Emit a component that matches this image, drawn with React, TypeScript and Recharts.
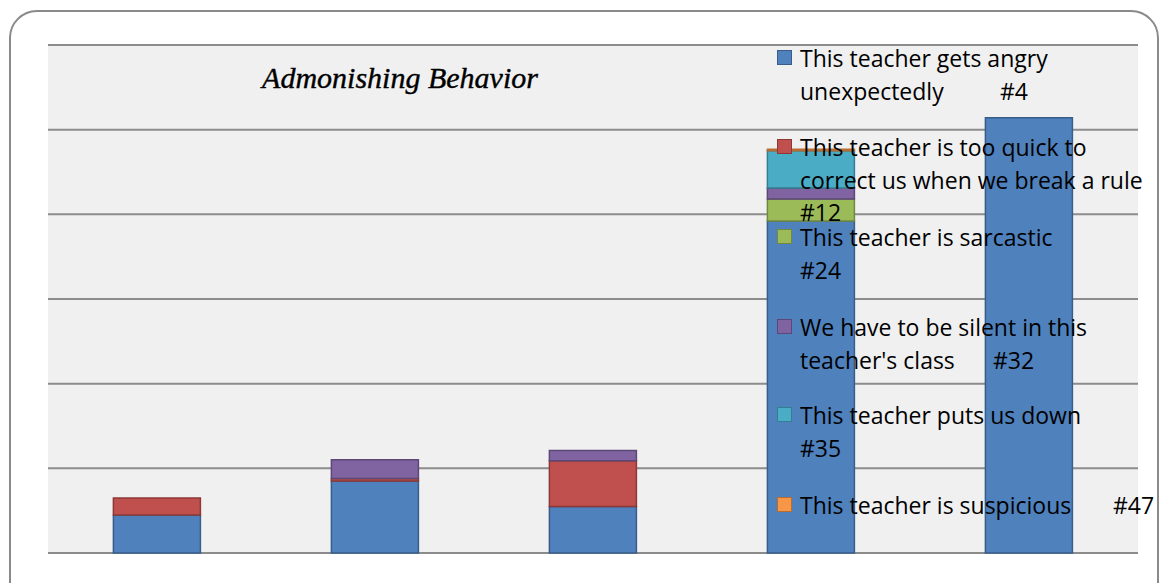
import React from "react";
import { BarChart, Bar, XAxis, YAxis, CartesianGrid, Legend } from "recharts";

const categories = ["Group 1", "Group 2", "Group 3", "Group 4", "Group 5"];
const angry = [0.45, 0.85, 0.55, 3.92, 5.14];
const tooQuick = [0.2, 0.03, 0.54, 0, 0];
const sarcastic = [0, 0, 0, 0.26, 0];
const silent = [0, 0.22, 0.12, 0.13, 0];
const putsDown = [0, 0, 0, 0.44, 0];
const suspicious = [0, 0, 0, 0.02, 0];
const yTicks = [0, 1, 2, 3, 4, 5, 6];

const title = "Admonishing Behavior";

const series = [
  { key: "angry", values: angry, fill: "#4f81bd", stroke: "#385d8a", name: "This teacher gets angry unexpectedly #4",
    lines: [["This teacher gets angry"], ["unexpectedly", "#4", 200]] },
  { key: "tooQuick", values: tooQuick, fill: "#c0504d", stroke: "#8c3836", name: "This teacher is too quick to correct us when we break a rule #12",
    lines: [["This teacher is too quick to"], ["correct us when we break a rule"], ["#12"]] },
  { key: "sarcastic", values: sarcastic, fill: "#9bbb59", stroke: "#71893f", name: "This teacher is sarcastic #24",
    lines: [["This teacher is sarcastic"], ["#24"]] },
  { key: "silent", values: silent, fill: "#8064a2", stroke: "#5c4776", name: "We have to be silent in this teacher's class #32",
    lines: [["We have to be silent in this"], ["teacher's class", "#32", 193]] },
  { key: "putsDown", values: putsDown, fill: "#4bacc6", stroke: "#357d91", name: "This teacher puts us down #35",
    lines: [["This teacher puts us down"], ["#35"]] },
  { key: "suspicious", values: suspicious, fill: "#f79646", stroke: "#b66d31", name: "This teacher is suspicious #47",
    lines: [["This teacher is suspicious", "#47", 313]] },
];

const legendTops = [58, 147, 237, 327, 415, 505];

const data = categories.map((c, i) => {
  const row: any = { category: c };
  series.forEach((s) => (row[s.key] = s.values[i]));
  return row;
});

const FONT = "'Open Sans', 'Noto Sans', sans-serif";

const Overlay = () => (
  <div style={{ position: "relative", width: 1167, height: 583, pointerEvents: "none" }}>
    <div
      style={{
        position: "absolute",
        left: 200,
        width: 400,
        top: 60,
        textAlign: "center",
        fontFamily: "'Liberation Serif', serif",
        fontStyle: "italic",
        fontSize: 30,
        lineHeight: "36px",
        color: "#000",
        WebkitTextStroke: "0.4px #000",
      }}
    >
      {title}
    </div>
    {series.map((s, i) => (
      <div key={s.key} style={{ position: "absolute", left: 777, top: legendTops[i] }}>
        <div
          style={{
            position: "absolute",
            left: 0,
            top: -8,
            width: 15,
            height: 15,
            boxSizing: "border-box",
            background: s.fill,
            border: `1.5px solid ${s.stroke}`,
          }}
        />
        {s.lines.map((ln: any, j: number) => (
          <div
            key={j}
            style={{
              position: "absolute",
              left: 23,
              top: j * 32.5 - 12,
              whiteSpace: "pre",
              fontFamily: FONT,
              fontSize: 23,
              lineHeight: "24px",
              color: "#000",
            }}
          >
            {ln[0]}
            {ln[1] ? (
              <span style={{ position: "absolute", left: ln[2], top: 0 }}>{ln[1]}</span>
            ) : null}
          </div>
        ))}
      </div>
    ))}
  </div>
);

export default function App() {
  return (
    <div
      style={{
        position: "absolute",
        left: 0,
        top: 0,
        width: 1167,
        height: 583,
        overflow: "hidden",
        background: "#fff",
      }}
    >
      <div
        style={{
          position: "absolute",
          left: 9,
          top: 10,
          width: 1150,
          height: 620,
          border: "2px solid #8a8a8a",
          borderRadius: 28,
          boxSizing: "border-box",
        }}
      />
      <div style={{ position: "absolute", left: 0, top: 0 }}>
        <BarChart
          width={1167}
          height={583}
          data={data}
          margin={{ top: 45, left: 48, right: 29, bottom: 30 }}
          barCategoryGap="30%"
        >
          <CartesianGrid
            vertical={false}
            stroke="#8c8c8c"
            strokeWidth={2}
            fill="#f0f0f0"
            fillOpacity={1}
          />
          <XAxis dataKey="category" hide />
          <YAxis hide domain={[0, 6]} ticks={yTicks} />
          {series.map((s) => (
            <Bar
              key={s.key}
              dataKey={s.key}
              name={s.name}
              stackId="a"
              fill={s.fill}
              stroke={s.stroke}
              strokeWidth={1.5}
              isAnimationActive={false}
            />
          ))}
          <Legend
            layout="vertical"
            align="center"
            verticalAlign="middle"
            wrapperStyle={{ left: 0, top: 0, width: 1167, height: 583, margin: 0, padding: 0 }}
            content={() => <Overlay />}
          />
        </BarChart>
      </div>
    </div>
  );
}
